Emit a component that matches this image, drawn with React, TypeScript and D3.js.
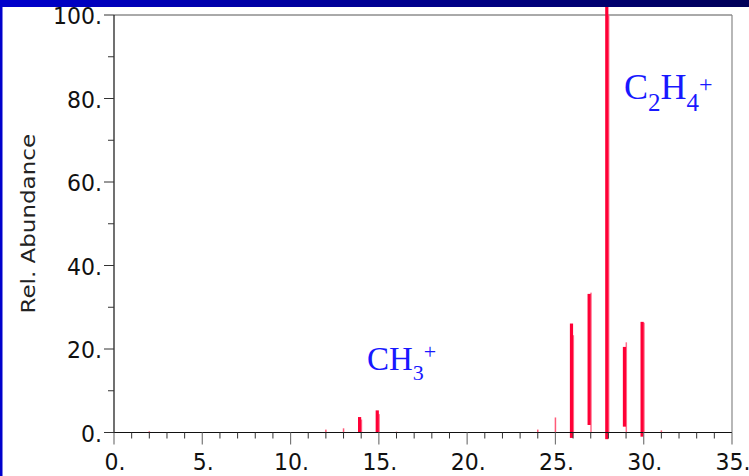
import React from "react";
import * as d3 from "d3";

// ---- data ----
// major (thick) peaks: m/z, relative abundance, lower end of the drawn bar
const majorMasses = [14, 15, 26, 27, 28, 29, 30];
const majorValues = [3.7, 5.3, 26.1, 33.2, 102, 20.5, 26.5];
const majorBases = [0, 0, -1.3, 1.8, -1.6, 1.4, -1.0];
// lighter companion lines next to the major peaks
const shoulderMasses = [14, 15, 26, 27, 28, 29, 30];
const shoulderValues = [3.1, 4.4, 23.3, 33.5, 100, 21.6, 26.3];
// minor (thin) peaks
const minorMasses = [2, 12, 13, 16, 24, 25, 31];
const minorValues = [0.3, 0.7, 1.0, 0.2, 0.7, 3.6, 0.5];

const xMajorTicks = [0, 5, 10, 15, 20, 25, 30, 35];
const xMinorTicks = d3.range(0, 36, 1);
const yMajorTicks = [0, 20, 40, 60, 80, 100];
const yMinorTicks = [10, 30, 50, 70, 90];
const yLabel = "Rel. Abundance";

const W = 749;
const H = 476;

export default function App() {
  const x = d3.scaleLinear().domain([0, 35]).range([114, 732]);
  const y = d3.scaleLinear().domain([0, 100]).range([432.5, 15]);
  const fmt = (d: number) => `${d}.`;
  const red = "#ff0036";
  const tickFont = "'DejaVu Sans', sans-serif";
  const serif = "'Liberation Serif', 'Times New Roman', serif";

  return (
    <svg
      width={W}
      height={H}
      style={{ position: "absolute", left: 0, top: 0, background: "#fff" }}
    >
      <defs>
        <linearGradient id="topbar" x1="0" x2="1" y1="0" y2="0">
          <stop offset="0" stopColor="#0000cc" />
          <stop offset="1" stopColor="#000058" />
        </linearGradient>
      </defs>
      <rect x={0} y={0} width={W} height={H} fill="#fff" />

      {/* frame */}
      <line x1={x(0)} x2={x(35)} y1={y(100)} y2={y(100)} stroke="#555" strokeWidth={1} />
      <line x1={x(35)} x2={x(35)} y1={y(100)} y2={y(0)} stroke="#888" strokeWidth={1.2} />

      {/* peaks */}
      {minorMasses.map((m, i) => (
        <rect
          key={"mi" + i}
          x={x(m) - 0.75}
          width={1.5}
          y={y(minorValues[i])}
          height={y(0) - y(minorValues[i])}
          fill="#ff5a78"
        />
      ))}
      {shoulderMasses.map((m, i) => (
        <rect
          key={"sh" + i}
          x={x(m) - 0.5}
          width={1.5}
          y={y(shoulderValues[i])}
          height={y(0) - y(shoulderValues[i])}
          fill="#ff6f8c"
        />
      ))}
      {majorMasses.map((m, i) => (
        <rect
          key={"ma" + i}
          x={x(m) - 3.2}
          width={3.2}
          y={y(majorValues[i])}
          height={y(majorBases[i]) - y(majorValues[i])}
          fill={red}
        />
      ))}

      {/* x axis */}
      <line x1={x(0) - 10} x2={x(35)} y1={y(0)} y2={y(0)} stroke="#111" strokeWidth={1.2} />
      {xMinorTicks
        .filter((t) => !xMajorTicks.includes(t))
        .map((t) => (
          <line key={"xm" + t} x1={x(t)} x2={x(t)} y1={y(0)} y2={y(0) + 6} stroke="#333" strokeWidth={1} />
        ))}
      {xMajorTicks.map((t) => (
        <g key={"xM" + t}>
          <line x1={x(t)} x2={x(t)} y1={y(0)} y2={y(0) + 12} stroke="#777" strokeWidth={1.2} />
          <text
            transform={`translate(${x(t) + 1},462) scale(1,1.08)`}
            textAnchor="middle"
            dominantBaseline="central"
            fontFamily={tickFont}
            fontSize={22}
            fill="#111"
          >
            {fmt(t)}
          </text>
        </g>
      ))}

      {/* y axis */}
      <line x1={x(0)} x2={x(0)} y1={y(100)} y2={y(0)} stroke="#111" strokeWidth={1.2} />
      {yMinorTicks.map((t) => (
        <line key={"ym" + t} x1={x(0) - 6} x2={x(0)} y1={y(t)} y2={y(t)} stroke="#333" strokeWidth={1} />
      ))}
      {yMajorTicks.map((t) => (
        <g key={"yM" + t}>
          <line x1={x(0) - 10} x2={x(0)} y1={y(t)} y2={y(t)} stroke="#333" strokeWidth={1} />
          <text
            transform={`translate(${x(0) - 12},${y(t) + 1}) scale(1,1.08)`}
            textAnchor="end"
            dominantBaseline="central"
            fontFamily={tickFont}
            fontSize={22}
            fill="#111"
          >
            {fmt(t)}
          </text>
        </g>
      ))}
      <text
        transform={`translate(28,${(y(0) + y(100)) / 2}) rotate(-90) scale(1.15,1)`}
        textAnchor="middle"
        dominantBaseline="central"
        fontFamily={tickFont}
        fontSize={20}
        fill="#222"
      >
        {yLabel}
      </text>

      {/* annotations */}
      <text x={367} y={370} fontFamily={serif} fontSize={33} fill="#1818ff">
        CH
        <tspan fontSize={22} dy={10}>3</tspan>
        <tspan fontSize={22} dy={-21}>+</tspan>
      </text>
      <text x={624} y={99} fontFamily={serif} fontSize={36} fill="#1818ff">
        C
        <tspan fontSize={25} dy={12}>2</tspan>
        <tspan fontSize={36} dy={-12}>H</tspan>
        <tspan fontSize={25} dy={12}>4</tspan>
        <tspan fontSize={24} dy={-19}>+</tspan>
      </text>

      {/* slide decoration */}
      <rect x={0} y={0} width={W} height={7} fill="url(#topbar)" />
      <rect x={0} y={0} width={2.5} height={H} fill="#0000cc" />
    </svg>
  );
}
